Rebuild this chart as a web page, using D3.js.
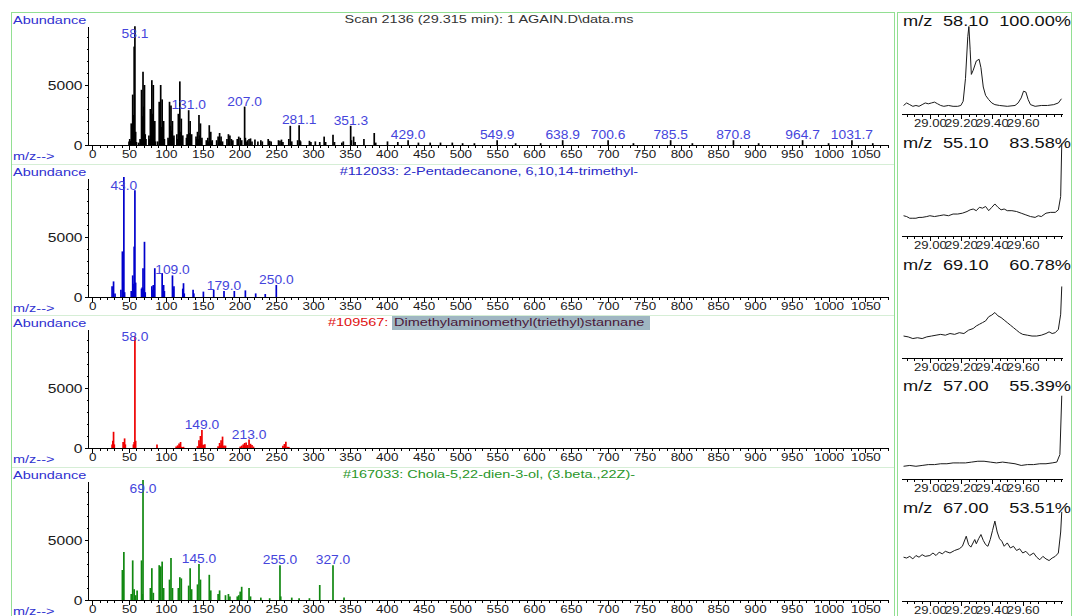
<!DOCTYPE html>
<html>
<head>
<meta charset="utf-8">
<script src="https://cdn.jsdelivr.net/npm/d3@7"></script>
<style>
  body { margin: 0; background: #fff; }
  text { font-family: "Liberation Sans", Arial, sans-serif; }
</style>
</head>
<body>
<div id="chart"></div>
<script>
// ---------- data ----------

// scan 2136 (black spectrum)
var scanMz = [50, 51, 52, 53, 54, 55, 56, 57, 58, 59, 60, 63, 65, 66, 67, 68, 69, 70, 71, 72, 73,
  77, 78, 79, 80, 81, 82, 83, 84, 85, 86, 89, 91, 92, 93, 94, 95, 96, 97, 98,
  103, 104, 105, 106, 107, 108, 109, 110, 111, 115, 116, 117, 118, 119, 120, 121, 122, 123,
  128, 129, 130, 131, 132, 133, 134, 135, 141, 142, 143, 144, 145, 146, 147, 148, 149,
  155, 157, 158, 159, 160, 161, 162, 163, 169, 171, 172, 173, 174, 175, 177, 183, 185, 186, 187, 189, 191,
  197, 199, 201, 203, 207, 208, 209, 211, 213, 215, 217, 221, 225, 229, 231, 239, 241, 243,
  253, 255, 257, 259, 267, 269, 271, 279, 281, 282, 283, 295, 297, 303, 309, 315, 317, 327, 329,
  339, 341, 351, 352, 355, 357, 369, 383, 385, 401, 415, 429, 443, 459, 473, 489, 503, 519,
  549.9, 575, 609, 638.9, 700.6, 735, 785.5, 815, 870.8, 905, 964.7, 1000, 1031.7, 1060];
var scanAb = [300, 500, 350, 1800, 900, 4200, 2500, 8200, 9900, 1100, 250, 200, 500, 400, 4600, 2400, 6100, 3200, 5000, 900, 500,
  800, 500, 3000, 1800, 5400, 2600, 5000, 1500, 2000, 300, 300, 3600, 1600, 5000, 1500, 3800, 1400, 2000, 500,
  600, 400, 3600, 1600, 3300, 1200, 2000, 600, 800, 900, 500, 2600, 1000, 5300, 1100, 2200, 600, 800,
  600, 900, 500, 2900, 1000, 2000, 600, 900, 700, 500, 1100, 500, 2500, 800, 1800, 400, 600,
  400, 600, 300, 1650, 500, 1100, 300, 400, 400, 700, 300, 1000, 300, 700, 300, 500, 900, 300, 800, 500, 400,
  500, 700, 600, 400, 3200, 600, 300, 400, 500, 550, 300, 450, 300, 400, 300, 500, 350, 300,
  400, 350, 450, 250, 500, 1600, 300, 400, 1650, 400, 300, 350, 250, 300, 250, 700, 250, 850, 250,
  200, 300, 1600, 400, 700, 250, 500, 1000, 200, 300, 250, 400, 200, 200, 200, 200, 150, 150,
  400, 150, 150, 400, 400, 150, 400, 150, 400, 150, 400, 150, 400, 150];
var scanLabels = [58.1, 131.0, 207.0, 281.1, 351.3, 429.0, 549.9, 638.9, 700.6, 785.5, 870.8, 964.7, 1031.7];

// library hit #112033 (blue)
var hit1Mz = [27, 29, 31, 39, 41, 42, 43, 44, 53, 55, 56, 57, 58, 59, 67, 68, 69, 70, 71, 72,
  81, 82, 83, 84, 85, 95, 96, 97, 98, 109, 110, 111, 123, 124, 125, 137, 138, 151, 165, 179, 193, 208, 222, 235, 250];
var hit1Ab = [900, 1300, 300, 600, 3800, 1200, 10000, 400, 500, 1800, 1100, 4200, 8900, 1200, 700, 800, 2400, 700, 4600, 400,
  900, 600, 1000, 400, 2400, 2000, 700, 1000, 500, 1800, 700, 900, 700, 1150, 300, 600, 300, 450, 600, 500, 500, 550, 300, 250, 1000];
var hit1Labels = [43.0, 109.0, 179.0, 250.0];

// library hit #109567 (red)
var hit2Mz = [27, 28, 29, 30, 42, 44, 45, 56, 57, 58, 59, 88, 114, 116, 117, 118, 119, 120, 121, 122, 124,
  143, 145, 146, 147, 148, 149, 150, 151, 153, 171, 173, 174, 175, 176, 177, 178, 179, 181,
  201, 203, 205, 206, 207, 208, 209, 211, 213, 215, 217, 219, 259, 261, 262, 263, 265, 267];
var hit2Ab = [300, 600, 1350, 300, 500, 800, 300, 300, 500, 9300, 600, 300, 120, 220, 130, 380, 160, 500, 100, 90, 100,
  150, 650, 320, 1000, 420, 1500, 250, 280, 320, 150, 420, 220, 650, 280, 950, 150, 200, 200,
  120, 200, 300, 180, 420, 220, 450, 250, 700, 350, 250, 120, 180, 330, 150, 520, 100, 90];
var hit2Labels = [58.0, 149.0, 213.0];

// library hit #167033 (green)
var hit3Mz = [41, 43, 53, 55, 57, 59, 61, 67, 68, 69, 79, 81, 83, 91, 93, 95, 97, 105, 107, 109, 117, 119, 121,
  131, 133, 135, 143, 145, 147, 159, 161, 171, 173, 181, 185, 187, 197, 199, 201, 203, 213, 215, 229, 241,
  255, 256, 271, 281, 295, 309, 327, 342];
var hit3Ab = [2500, 4000, 500, 3300, 900, 400, 800, 3300, 500, 10000, 1000, 2650, 600, 2900, 2800, 3200, 1000, 1700, 3500, 1000, 1000, 1900, 1800,
  1200, 2650, 900, 1300, 3000, 1700, 2100, 800, 500, 800, 400, 500, 300, 300, 400, 700, 1100, 1000, 300, 200, 150,
  2900, 300, 200, 150, 150, 1250, 2900, 200];
var hit3Labels = [69.0, 145.0, 255.0, 327.0];

var xTicks = [0, 50, 100, 150, 200, 250, 300, 350, 400, 450, 500, 550, 600, 650, 700, 750, 800, 850, 900, 950, 1000, 1050];
var yTicks = [0, 5000];

// extracted ion chromatograms (right column)
var eicIons = ["58.10", "55.10", "69.10", "57.00", "67.00"];
var eicPercent = ["100.00%", "83.58%", "60.78%", "55.39%", "53.51%"];
var eicTickLabels = [29.00, 29.20, 29.40, 29.60];

var eic58Time = [28.83, 28.85, 28.87, 28.89, 28.91, 28.93, 28.95, 28.97, 28.99, 29.01, 29.03, 29.05, 29.07, 29.09, 29.12,
  29.15, 29.18, 29.20, 29.215, 29.23, 29.245, 29.252, 29.26, 29.268, 29.28, 29.30, 29.318, 29.33, 29.345, 29.36,
  29.38, 29.40, 29.42, 29.45, 29.50, 29.55, 29.57, 29.59, 29.605, 29.62, 29.635, 29.65, 29.68, 29.72, 29.76, 29.80, 29.83, 29.85];
var eic58Val = [3, 6, 4, 2, 3, 2, 4, 6, 5, 6, 7, 5, 3, 2, 3,
  2, 2, 3, 8, 35, 85, 97, 70, 40, 45, 56, 58, 48, 25, 15,
  10, 6, 4, 3, 2, 3, 6, 12, 20, 19, 10, 4, 2, 3, 3, 4, 6, 11];

var eic55Time = [28.83, 28.85, 28.87, 28.89, 28.91, 28.93, 28.95, 28.98, 29.00, 29.03, 29.06, 29.09, 29.12, 29.15, 29.18,
  29.21, 29.24, 29.26, 29.28, 29.30, 29.32, 29.34, 29.36, 29.38, 29.40, 29.42, 29.44, 29.46, 29.48, 29.50,
  29.53, 29.56, 29.59, 29.62, 29.65, 29.68, 29.70, 29.72, 29.75, 29.78, 29.81, 29.83, 29.845, 29.852];
var eic55Val = [17, 16, 14, 14, 14, 15, 15, 16, 17, 16, 17, 18, 17, 19, 19,
  20, 22, 24, 25, 23, 27, 26, 28, 23, 27, 31, 27, 24, 25, 23,
  23, 22, 20, 18, 16, 15, 17, 16, 20, 21, 21, 24, 40, 103];

var eic69Time = [28.83, 28.86, 28.89, 28.92, 28.95, 28.98, 29.01, 29.04, 29.07, 29.10, 29.13, 29.16, 29.19, 29.22, 29.25,
  29.28, 29.30, 29.32, 29.34, 29.36, 29.38, 29.40, 29.42, 29.44, 29.46, 29.48, 29.50, 29.52, 29.54, 29.56,
  29.58, 29.60, 29.63, 29.66, 29.69, 29.72, 29.75, 29.77, 29.79, 29.81, 29.83, 29.845, 29.852];
var eic69Val = [19, 18, 16, 17, 16, 18, 19, 20, 21, 20, 22, 21, 23, 22, 26,
  28, 31, 33, 35, 37, 42, 44, 47, 43, 41, 38, 35, 32, 29, 26,
  23, 21, 20, 19, 19, 20, 22, 24, 22, 23, 27, 45, 78];

var eic57Time = [28.83, 28.87, 28.91, 28.95, 28.99, 29.03, 29.07, 29.11, 29.15, 29.19, 29.23, 29.27, 29.31, 29.35,
  29.39, 29.43, 29.47, 29.51, 29.55, 29.59, 29.63, 29.67, 29.71, 29.75, 29.79, 29.82, 29.84, 29.852];
var eic57Val = [8, 9, 8, 9, 10, 10, 11, 11, 12, 12, 12, 13, 14, 14,
  13, 12, 13, 12, 11, 9, 10, 10, 11, 11, 12, 13, 22, 92];

var eic67Time = [28.83, 28.85, 28.87, 28.89, 28.91, 28.93, 28.95, 28.97, 29.00, 29.02, 29.04, 29.06, 29.08, 29.10, 29.13,
  29.16, 29.19, 29.21, 29.235, 29.25, 29.265, 29.29, 29.30, 29.315, 29.33, 29.345, 29.36, 29.375, 29.39, 29.405,
  29.42, 29.435, 29.45, 29.465, 29.48, 29.50, 29.52, 29.54, 29.56, 29.58, 29.60, 29.62, 29.645, 29.67, 29.69,
  29.71, 29.73, 29.75, 29.77, 29.79, 29.81, 29.83, 29.845, 29.852];
var eic67Val = [45, 44, 46, 43, 47, 45, 48, 46, 47, 50, 47, 51, 49, 52, 50,
  53, 55, 58, 70, 60, 57, 66, 61, 67, 72, 65, 60, 58, 66, 77,
  88, 75, 67, 64, 58, 62, 56, 58, 53, 55, 50, 52, 47, 50, 45,
  42, 46, 43, 41, 44, 46, 50, 75, 99];

// ---------- drawing ----------
var svgWidth = 1078;
var svgHeight = 616;

var svg = d3.select("#chart")
  .append("svg")
  .attr("width", svgWidth)
  .attr("height", svgHeight);

// stretched text, like the screenshot
function addText(g, px, py, str, size, color, anchor, sx) {
  return g.append("text")
    .attr("transform", "translate(" + px + "," + py + ") scale(" + sx + ",1)")
    .attr("text-anchor", anchor)
    .attr("font-size", size)
    .attr("fill", color)
    .text(str);
}

// green frames
svg.append("rect")
  .attr("x", 11.5).attr("y", 12.5)
  .attr("width", 883).attr("height", 640)
  .attr("fill", "none").attr("stroke", "#92df92");
svg.append("rect")
  .attr("x", 897.5).attr("y", 12.5)
  .attr("width", 174).attr("height", 640)
  .attr("fill", "none").attr("stroke", "#92df92");

var xScale = d3.scaleLinear().domain([0, 1080]).range([92.2, 887.5]);

var panels = [
  { mz: scanMz, ab: scanAb, labels: scanLabels, color: "#000000" },
  { mz: hit1Mz, ab: hit1Ab, labels: hit1Labels, color: "#0000cc" },
  { mz: hit2Mz, ab: hit2Ab, labels: hit2Labels, color: "#ee0000" },
  { mz: hit3Mz, ab: hit3Ab, labels: hit3Labels, color: "#118811" }
];

panels.forEach(function(p, i) {
  var base = Math.round(145 + i * 151.7);
  var yScale = d3.scaleLinear().domain([0, 10000]).range([base, base - 120]);
  var g = svg.append("g");
  var peaks = d3.zip(p.mz, p.ab);

  // separator between panels
  if (i > 0) {
    g.append("line")
      .attr("x1", 12).attr("x2", 894)
      .attr("y1", base - 132.5).attr("y2", base - 132.5)
      .attr("stroke", "#d6eed6");
  }

  addText(g, 13, base - 121, "Abundance", 10, "#2f2fd0", "start", 1.45);
  addText(g, 13, base + 15, "m/z-->", 10, "#2f2fd0", "start", 1.45);

  // titles
  if (i === 0) {
    addText(g, 489, base - 122, "Scan 2136 (29.315 min): 1 AGAIN.D\\data.ms", 10, "#333333", "middle", 1.45);
  } else if (i === 1) {
    addText(g, 489, base - 122, "#112033: 2-Pentadecanone, 6,10,14-trimethyl-", 10, "#2a2ac8", "middle", 1.45);
  } else if (i === 2) {
    g.append("rect")
      .attr("x", 392).attr("y", base - 132)
      .attr("width", 258).attr("height", 14)
      .attr("fill", "#9fb6c2");
    addText(g, 328, base - 122, "#109567: ", 10, "#e01010", "start", 1.45);
    addText(g, 394, base - 122, "Dimethylaminomethyl(triethyl)stannane", 10, "#4a1838", "start", 1.45);
  } else {
    addText(g, 489, base - 122, "#167033: Chola-5,22-dien-3-ol, (3.beta.,22Z)-", 10, "#2a962a", "middle", 1.45);
  }

  // peaks
  g.append("g")
    .selectAll("line")
    .data(peaks)
    .join("line")
    .attr("x1", d => xScale(d[0]))
    .attr("x2", d => xScale(d[0]))
    .attr("y1", base)
    .attr("y2", d => yScale(d[1]))
    .attr("stroke", p.color)
    .attr("stroke-width", 1.7);

  // x axis: minor then major ticks
  var minorAxis = d3.axisBottom(xScale)
    .tickValues(d3.range(0, 1081, 10))
    .tickSize(3)
    .tickFormat("");
  var mx = g.append("g")
    .attr("transform", `translate(0, ${base})`)
    .attr("shape-rendering", "crispEdges")
    .call(minorAxis);
  mx.select(".domain").remove();

  var majorAxis = d3.axisBottom(xScale)
    .tickValues(xTicks)
    .tickSize(5)
    .tickFormat(d3.format("d"));
  var xa = g.append("g")
    .attr("transform", `translate(0, ${base})`)
    .attr("shape-rendering", "crispEdges")
    .call(majorAxis);
  xa.select(".domain").remove();
  xa.selectAll("text")
    .attr("y", 13)
    .attr("dy", 0)
    .attr("font-size", 11)
    .attr("fill", "#1a1a1a")
    .attr("transform", "scale(1.22,1)");

  g.append("line")
    .attr("x1", 88).attr("x2", 888)
    .attr("y1", base + 0.5).attr("y2", base + 0.5)
    .attr("stroke", "#000");

  // y axis
  var ya = g.append("g")
    .attr("transform", "translate(88.5, 0)")
    .attr("shape-rendering", "crispEdges")
    .call(d3.axisLeft(yScale).tickValues(d3.range(1000, 10000, 1000)).tickSize(2).tickFormat(""));
  ya.select(".domain").remove();
  var yb = g.append("g")
    .attr("transform", "translate(88.5, 0)")
    .attr("shape-rendering", "crispEdges")
    .call(d3.axisLeft(yScale).tickValues(yTicks).tickSize(4).tickFormat(d3.format("d")));
  yb.select(".domain").remove();
  yb.selectAll("text")
    .attr("font-size", 13)
    .attr("fill", "#1a1a1a")
    .attr("x", -5)
    .attr("transform", "scale(1.2,1)");
  g.append("line")
    .attr("x1", 88.5).attr("x2", 88.5)
    .attr("y1", base).attr("y2", base - 118)
    .attr("stroke", "#000");

  // peak labels
  g.append("g")
    .selectAll("text")
    .data(p.labels)
    .join("text")
    .attr("transform", function(d) {
      var h = d3.max(peaks.filter(q => Math.abs(q[0] - d) <= 1), q => q[1]);
      var yy = Math.max(yScale(h) - 1, base - 107);
      return "translate(" + xScale(d) + "," + yy + ") scale(1.15,1)";
    })
    .attr("text-anchor", "middle")
    .attr("font-size", 12)
    .attr("fill", "#4545dc")
    .text(d => d.toFixed(1));
});

// ---------- right column: ion chromatograms ----------
var tScale = d3.scaleLinear().domain([28.82, 29.86]).range([902, 1063]);

var eics = [
  { t: eic58Time, v: eic58Val },
  { t: eic55Time, v: eic55Val },
  { t: eic69Time, v: eic69Val },
  { t: eic57Time, v: eic57Val },
  { t: eic67Time, v: eic67Val }
];

eics.forEach(function(e, i) {
  var axisY = Math.round(114 + i * 121.75);
  var vScale = d3.scaleLinear().domain([0, 100]).range([axisY - 6, axisY - 90]);
  var g = svg.append("g");

  addText(g, 903, axisY - 88, "m/z", 14, "#111", "start", 1.3);
  addText(g, 943, axisY - 88, eicIons[i], 14, "#111", "start", 1.3);
  addText(g, 1071, axisY - 88, eicPercent[i], 14, "#111", "end", 1.3);

  var line = d3.line()
    .x(d => tScale(d[0]))
    .y(d => vScale(d[1]));

  g.append("path")
    .datum(d3.zip(e.t, e.v))
    .attr("d", line)
    .attr("fill", "none")
    .attr("stroke", "#1a1a1a")
    .attr("stroke-width", 1);

  var minor = g.append("g")
    .attr("transform", `translate(0, ${axisY})`)
    .attr("shape-rendering", "crispEdges")
    .call(d3.axisBottom(tScale).tickValues(d3.range(0, 21).map(k => 28.85 + k * 0.05)).tickSize(3).tickFormat(""));
  minor.select(".domain").attr("d", "M902,0.5H1063");

  var major = g.append("g")
    .attr("transform", `translate(0, ${axisY})`)
    .attr("shape-rendering", "crispEdges")
    .call(d3.axisBottom(tScale).tickValues(eicTickLabels).tickSize(5).tickFormat(d3.format(".2f")));
  major.select(".domain").remove();
  major.selectAll("text")
    .attr("y", 13)
    .attr("dy", 0)
    .attr("font-size", 10.5)
    .attr("fill", "#1a1a1a")
    .attr("transform", "scale(1.25,1)");
});
</script>
</body>
</html>
